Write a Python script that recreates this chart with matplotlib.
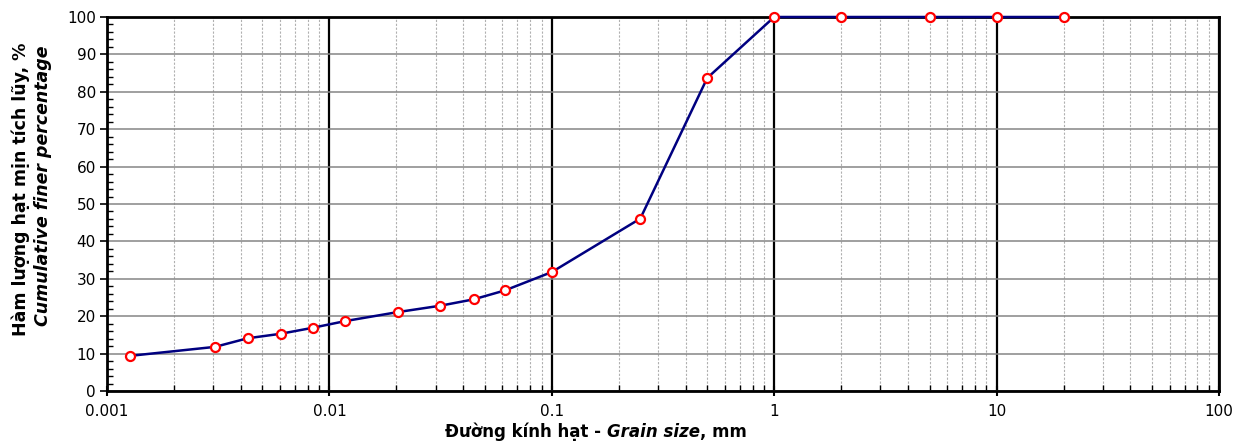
import matplotlib
matplotlib.use("Agg")
import matplotlib.pyplot as plt
from matplotlib.ticker import FixedLocator, LogLocator, FuncFormatter, MultipleLocator, NullFormatter
from matplotlib.offsetbox import TextArea, HPacker, AnchoredOffsetbox

# Grain size distribution (hydrometer + sieve)
grain_size_mm = [0.00127, 0.00306, 0.00429, 0.00604, 0.00841, 0.0118, 0.0203,
                 0.0315, 0.0445, 0.0616, 0.1, 0.25, 0.5, 1, 2, 5, 10, 20]
finer_pct = [9.4, 11.8, 14.1, 15.3, 16.9, 18.7, 21.1,
             22.8, 24.5, 26.9, 31.8, 46.1, 83.7, 100, 100, 100, 100, 100]

x_ticks = [0.001, 0.01, 0.1, 1, 10, 100]
x_tick_labels = ["0.001", "0.01", "0.1", "1", "10", "100"]
y_ticks = list(range(0, 101, 10))

plt.rcParams["font.family"] = ["DejaVu Sans"]

fig = plt.figure(figsize=(12.39, 4.41), dpi=100)
ax = fig.add_axes([107 / 1239, 1 - 391 / 441, (1219 - 107) / 1239, (391 - 17) / 441])

ax.set_xscale("log")
ax.set_xlim(0.001, 100)
ax.set_ylim(0, 100)

# grid: black decades, dashed grey minor verticals, grey horizontals
ax.xaxis.set_major_locator(FixedLocator(x_ticks))
ax.xaxis.set_major_formatter(FuncFormatter(lambda v, p: x_tick_labels[x_ticks.index(min(x_ticks, key=lambda t: abs(t - v)))]))
ax.xaxis.set_minor_locator(LogLocator(base=10, subs=range(2, 10), numticks=20))
ax.xaxis.set_minor_formatter(NullFormatter())
ax.yaxis.set_major_locator(FixedLocator(y_ticks))
ax.yaxis.set_minor_locator(MultipleLocator(2))

ax.grid(which="major", axis="x", color="black", linewidth=1.6, linestyle="-", zorder=1)
ax.grid(which="minor", axis="x", color="#b0b0b0", linewidth=0.8, linestyle=(0, (2, 1.5)), zorder=1)
ax.grid(which="major", axis="y", color="#858585", linewidth=1.1, linestyle="-", zorder=1)
ax.set_axisbelow(True)

for s in ax.spines.values():
    s.set_linewidth(2)
    s.set_color("black")

ax.tick_params(axis="x", which="major", direction="inout", length=7, width=1.5, labelsize=11, pad=6)
ax.tick_params(axis="x", which="minor", direction="in", length=4, width=1)
ax.tick_params(axis="y", which="major", direction="out", length=5, width=1.2, labelsize=11, pad=3)
ax.tick_params(axis="y", which="minor", direction="in", length=4, width=1)

ax.plot(grain_size_mm, finer_pct, color="#000080", linewidth=1.8, marker="o",
        markersize=6.5, markerfacecolor="white", markeredgecolor="red",
        markeredgewidth=1.6, clip_on=False, zorder=5)

# x-axis title with mixed bold / bold-italic pieces
parts = [
    TextArea("Đường kính hạt - ", textprops=dict(fontsize=12, fontweight="bold")),
    TextArea("Grain size", textprops=dict(fontsize=12, fontweight="bold", style="italic")),
    TextArea(", mm", textprops=dict(fontsize=12, fontweight="bold")),
]
box = HPacker(children=parts, pad=0, sep=0, align="baseline")
anchored = AnchoredOffsetbox(loc="center", child=box, frameon=False, pad=0, borderpad=0,
                             bbox_to_anchor=(596 / 1239, 1 - 432 / 441),
                             bbox_transform=fig.transFigure)
fig.add_artist(anchored)

# two-line y-axis title
fig.text(21 / 1239, 1 - 189 / 441, "Hàm lượng hạt mịn tích lũy, %", rotation=90,
         ha="center", va="center", fontsize=12.5, fontweight="bold")
fig.text(43 / 1239, 1 - 186 / 441, "Cumulative finer percentage", rotation=90,
         ha="center", va="center", fontsize=12.5, fontweight="bold", style="italic")

fig.savefig("out.png", dpi=100)
